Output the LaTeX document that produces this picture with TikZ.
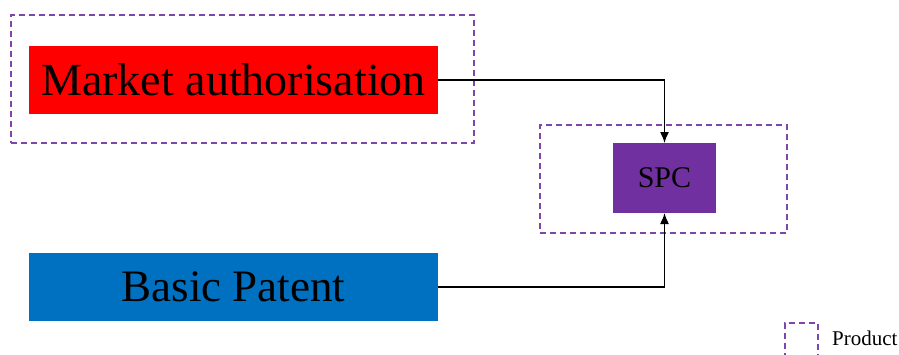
\documentclass[tikz,border=0pt]{standalone}
\usepackage{fontspec}
\setmainfont{Liberation Serif}
\usetikzlibrary{positioning,arrows.meta}
\definecolor{mared}{HTML}{FF0000}
\definecolor{bpblue}{HTML}{0070C0}
\definecolor{spcpurple}{HTML}{7030A0}
\begin{document}
\begin{tikzpicture}[x=1pt,y=-1pt,
	box/.style={inner sep=0pt, outer sep=0pt, minimum width=409pt, minimum height=68pt},
	frame/.style={draw=spcpurple!90!white, line width=1.4pt, dash pattern=on 6pt off 4pt, inner sep=0pt, outer sep=0pt},
	link/.style={-{Latex[length=11pt,width=9pt]}, line width=1.4pt}]
	\useasboundingbox (0,0) rectangle (899,354);
	
	%dashed frames
	\node[frame, minimum width=463pt, minimum height=128pt] (maframe)  at (242.5,79)  {};
	\node[frame, minimum width=247pt, minimum height=108pt] (spcframe) at (663.5,179) {};
	
	%boxes
	\node[box, fill=mared]  (ma) at (233.5,80)  {\fontsize{46}{46}\selectfont Market authorisation};
	\node[box, fill=bpblue] (bp) at (233.5,287) {\fontsize{45}{45}\selectfont Basic Patent};
	\node[box, fill=spcpurple, minimum width=103pt, minimum height=70pt] (spc) at (664.5,178) {\fontsize{30}{30}\selectfont SPC};
	
	%arrows
	\draw[link] (ma.east) -| (spc.north);	%authorisation to SPC
	\draw[link] (bp.east) -| (spc.south);	%patent to SPC
	
	%legend
	\node[frame, minimum width=33pt, minimum height=34pt] (legframe) at (801.5,340) {};
	\node[anchor=base west, inner sep=0pt] (legtext) at (832,345) {\fontsize{21}{21}\selectfont Product};
\end{tikzpicture}
\end{document}
